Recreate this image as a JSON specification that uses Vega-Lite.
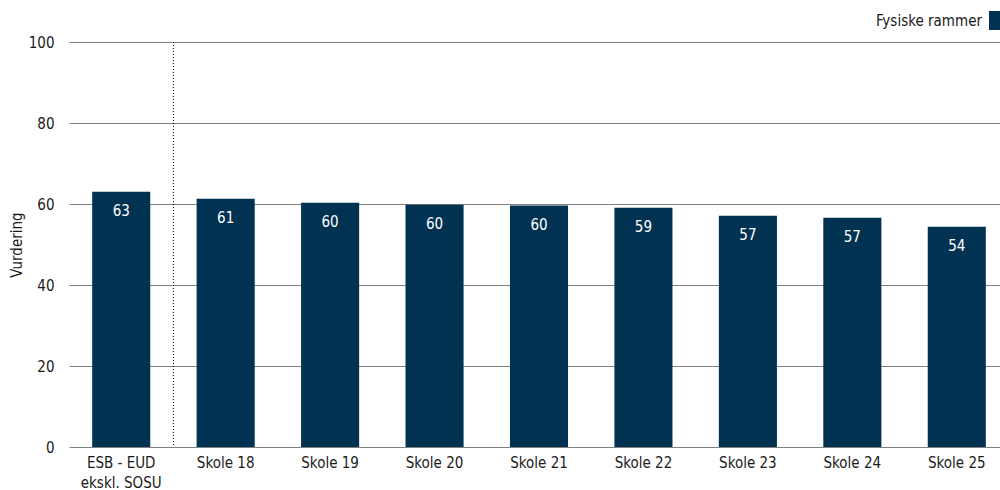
{
  "$schema": "https://vega.github.io/schema/vega-lite/v6.json",
  "width": 931,
  "height": 405,
  "autosize": {"type": "none"},
  "padding": {"left": 69, "top": 42, "right": 0, "bottom": 43},
  "background": "white",
  "config": {
    "font": "DejaVu Sans Condensed",
    "view": {"stroke": null},
    "axis": {"labelFont": "DejaVu Sans Condensed", "titleFont": "DejaVu Sans Condensed", "labelColor": "#1a1a1a", "titleColor": "#1a1a1a"},
    "legend": {"labelFont": "DejaVu Sans Condensed"}
  },
  "data": {
    "values": [
      {"skole": "ESB - EUD ekskl. SOSU", "vurdering": 63.0, "serie": "Fysiske rammer"},
      {"skole": "Skole 18", "vurdering": 61.3, "serie": "Fysiske rammer"},
      {"skole": "Skole 19", "vurdering": 60.3, "serie": "Fysiske rammer"},
      {"skole": "Skole 20", "vurdering": 59.8, "serie": "Fysiske rammer"},
      {"skole": "Skole 21", "vurdering": 59.6, "serie": "Fysiske rammer"},
      {"skole": "Skole 22", "vurdering": 59.1, "serie": "Fysiske rammer"},
      {"skole": "Skole 23", "vurdering": 57.1, "serie": "Fysiske rammer"},
      {"skole": "Skole 24", "vurdering": 56.6, "serie": "Fysiske rammer"},
      {"skole": "Skole 25", "vurdering": 54.4, "serie": "Fysiske rammer"}
    ]
  },
  "layer": [
    {
      "mark": {"type": "bar", "width": {"band": 0.556}},
      "encoding": {
        "x": {
          "field": "skole", "type": "nominal", "sort": null,
          "scale": {"paddingInner": 0, "paddingOuter": 0, "range": [0, 940]},
          "axis": {
            "title": null, "domain": false, "ticks": false, "labelAngle": 0,
            "labelFontSize": 15, "labelPadding": 8, "labelLineHeight": 20,
            "labelBaseline": "top",
            "labelExpr": "datum.value == 'ESB - EUD ekskl. SOSU' ? ['ESB - EUD', 'ekskl. SOSU'] : datum.value"
          }
        },
        "y": {
          "field": "vurdering", "type": "quantitative",
          "scale": {"domain": [0, 100], "nice": false},
          "axis": {
            "title": "Vurdering", "titleFontSize": 15, "titleFontWeight": "normal", "titlePadding": 4,
            "values": [0, 20, 40, 60, 80, 100], "domain": false, "ticks": false,
            "labelFontSize": 15, "labelPadding": 15,
            "grid": true, "gridColor": "#808080", "gridWidth": 1, "gridOpacity": 1
          }
        },
        "color": {
          "field": "serie", "type": "nominal",
          "scale": {"range": ["#023251"]},
          "legend": {
            "title": null, "orient": "none", "legendX": 920, "legendY": -31,
            "padding": 0, "symbolType": "square", "symbolSize": 361,
            "symbolStrokeWidth": 0, "labelFontSize": 15, "labelColor": "#1a1a1a",
            "labelAlign": "right", "labelOffset": -26
          }
        }
      }
    },
    {
      "mark": {"type": "text", "baseline": "middle", "align": "center", "dy": 19, "color": "white", "fontSize": 15},
      "encoding": {
        "x": {"field": "skole", "type": "nominal", "sort": null},
        "y": {"field": "vurdering", "type": "quantitative"},
        "text": {"field": "vurdering", "type": "quantitative", "format": ".0f"}
      }
    },
    {
      "data": {"values": [{"skillelinje": "Skole 18"}]},
      "mark": {"type": "rule", "strokeDash": [1, 2], "color": "#000000", "strokeWidth": 1},
      "encoding": {
        "x": {"field": "skillelinje", "type": "nominal", "bandPosition": 0}
      }
    }
  ]
}
